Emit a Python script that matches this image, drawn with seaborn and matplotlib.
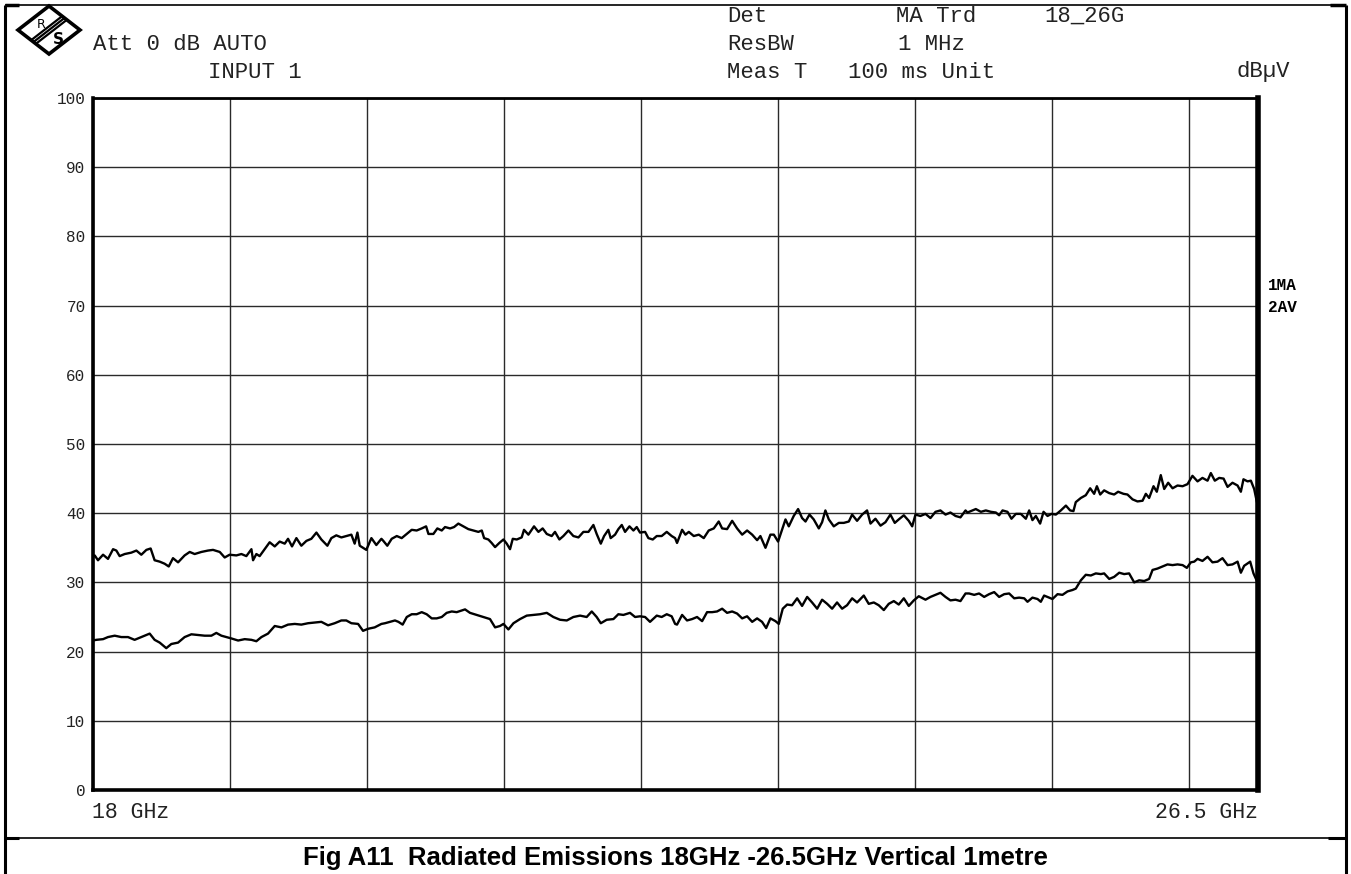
import numpy as np
import pandas as pd
import matplotlib
matplotlib.use("Agg")
import matplotlib.pyplot as plt
import seaborn as sns
from matplotlib.lines import Line2D
from matplotlib.patches import Polygon

# ---------------- data ----------------
ma_freq = [18.000, 18.016, 18.040, 18.077, 18.113, 18.150, 18.174, 18.198, 18.235, 18.283, 18.320, 18.356,
           18.393, 18.424, 18.441, 18.453, 18.490, 18.526, 18.556, 18.587, 18.624, 18.672, 18.709, 18.745,
           18.794, 18.842, 18.879, 18.928, 18.964, 19.000, 19.049, 19.086, 19.122, 19.159, 19.171, 19.195,
           19.219, 19.256, 19.292, 19.329, 19.365, 19.402, 19.426, 19.455, 19.487, 19.523, 19.560, 19.596,
           19.633, 19.669, 19.713, 19.742, 19.778, 19.815, 19.851, 19.888, 19.912, 19.932, 19.949, 19.997,
           20.034, 20.070, 20.107,
           20.121, 20.150, 20.182, 20.219, 20.255, 20.292, 20.328, 20.364, 20.401, 20.433, 20.450, 20.486,
           20.515, 20.547, 20.571, 20.608, 20.637, 20.668, 20.705, 20.741, 20.778, 20.814, 20.839, 20.856,
           20.887, 20.911, 20.936, 20.967, 20.997, 21.021, 21.045, 21.065, 21.094, 21.130, 21.147, 21.179,
           21.220, 21.252, 21.283, 21.313, 21.349, 21.373, 21.405, 21.434, 21.471, 21.507, 21.544, 21.580,
           21.617, 21.653, 21.677, 21.707, 21.731, 21.762, 21.779, 21.811, 21.835, 21.860, 21.884, 21.916,
           21.945, 21.969, 21.993, 22.030, 22.054, 22.086, 22.115, 22.151, 22.188, 22.224, 22.249,
           22.263, 22.300, 22.324, 22.349, 22.385, 22.422, 22.458, 22.494, 22.531, 22.567, 22.592, 22.628,
           22.665, 22.701, 22.738, 22.774, 22.811, 22.847, 22.871, 22.908, 22.944, 22.969, 23.000, 23.029,
           23.054, 23.078, 23.114, 23.146, 23.175, 23.200, 23.229, 23.260, 23.297, 23.321, 23.345, 23.370,
           23.406, 23.443, 23.479, 23.516, 23.540, 23.576, 23.613, 23.649, 23.674, 23.710, 23.747, 23.783,
           23.819, 23.851, 23.880, 23.917, 23.953, 23.978, 24.002, 24.038, 24.075, 24.111, 24.148, 24.184,
           24.221, 24.257, 24.294, 24.330, 24.367,
           24.381, 24.418, 24.442, 24.479, 24.515, 24.552, 24.588, 24.612, 24.637, 24.673, 24.702, 24.734,
           24.770, 24.807, 24.831, 24.855, 24.880, 24.911, 24.936, 24.965, 24.994, 25.026, 25.062, 25.099,
           25.130, 25.154, 25.171, 25.208, 25.244, 25.276, 25.305, 25.325, 25.349, 25.378, 25.415, 25.451,
           25.480, 25.519, 25.548, 25.585, 25.621, 25.658, 25.682, 25.706, 25.738, 25.762, 25.791, 25.816,
           25.845, 25.877, 25.913, 25.950, 25.986, 26.022, 26.059, 26.095, 26.132, 26.156, 26.185, 26.217,
           26.249, 26.278, 26.314, 26.351, 26.375, 26.394, 26.424, 26.448, 26.472, 26.492]
ma_level = [33.6, 33.9, 33.2, 34.0, 33.4, 34.8, 34.6, 33.8, 34.1, 34.3, 34.6, 34.0,
            34.7, 34.9, 33.9, 33.2, 33.0, 32.7, 32.3, 33.5, 32.9, 33.9, 34.4, 34.1,
            34.4, 34.6, 34.7, 34.4, 33.6, 34.0, 33.9, 34.1, 33.8, 34.8, 33.2, 34.1,
            33.8, 34.8, 35.8, 35.2, 35.9, 35.6, 36.3, 35.2, 36.4, 35.3, 36.0, 36.3,
            37.2, 36.2, 35.3, 36.4, 36.8, 36.5, 36.7, 36.9, 35.6, 37.2, 35.3, 34.7,
            36.4, 35.4, 36.3,
            36.0, 35.3, 36.3, 36.7, 36.4, 37.0, 37.6, 37.5, 37.8, 38.1, 37.0, 37.0,
            37.8, 37.5, 38.0, 37.8, 38.0, 38.5, 38.1, 37.7, 37.5, 37.3, 37.5, 36.4,
            36.2, 35.7, 35.1, 35.7, 36.2, 35.6, 34.8, 36.3, 36.2, 36.5, 37.6, 36.9,
            38.1, 37.3, 37.8, 37.0, 36.7, 37.3, 36.2, 36.7, 37.5, 36.7, 36.5, 37.3,
            37.3, 38.3, 37.0, 35.6, 36.7, 37.6, 36.4, 36.9, 37.7, 38.3, 37.3, 38.1,
            37.5, 38.0, 37.2, 37.3, 36.4, 36.2, 36.7, 36.7, 37.3, 36.7, 36.4,
            35.7, 37.6, 36.9, 37.3, 36.7, 36.9, 36.4, 37.5, 37.8, 38.8, 37.8, 37.7,
            38.9, 37.8, 36.9, 37.5, 36.9, 36.1, 36.7, 35.0, 36.9, 36.9, 35.9, 37.6,
            39.1, 38.1, 39.6, 40.6, 39.3, 38.8, 39.8, 39.1, 37.8, 38.7, 40.4, 39.1,
            38.1, 38.6, 38.6, 38.8, 39.8, 38.9, 39.8, 40.4, 38.5, 39.2, 38.2, 38.7,
            39.8, 38.6, 39.1, 39.7, 38.9, 38.1, 39.8, 39.6, 39.9, 39.3, 40.2, 40.4,
            39.8, 40.1, 39.6, 39.4, 40.4,
            40.1, 40.4, 40.6, 40.2, 40.4, 40.2, 40.1, 39.7, 40.4, 40.2, 39.2, 39.9,
            39.9, 39.2, 40.4, 39.0, 39.6, 38.5, 40.2, 39.6, 39.9, 39.8, 40.4, 41.1,
            40.4, 40.3, 41.6, 42.2, 42.6, 43.6, 42.8, 43.9, 42.7, 43.3, 42.9, 42.7,
            43.1, 42.8, 42.7, 42.0, 41.7, 41.8, 42.8, 42.2, 43.9, 43.1, 45.5, 43.5,
            44.4, 43.6, 44.0, 43.9, 44.2, 45.4, 44.6, 45.1, 44.7, 45.8, 44.7, 45.1,
            45.0, 43.8, 44.4, 44.0, 43.1, 44.9, 44.6, 44.7, 43.5, 41.6]

av_freq = [18.000, 18.028, 18.077, 18.113, 18.162, 18.210, 18.259, 18.307, 18.368, 18.417, 18.453, 18.490,
           18.538, 18.575, 18.624, 18.672, 18.721, 18.770, 18.818, 18.867, 18.903, 18.940, 18.976, 19.013,
           19.062, 19.110, 19.159, 19.195, 19.232, 19.280, 19.329, 19.378, 19.426, 19.475, 19.523, 19.572,
           19.620, 19.669, 19.718, 19.766, 19.815, 19.851, 19.888, 19.937, 19.973, 20.010, 20.058, 20.107,
           20.133, 20.170, 20.206, 20.231, 20.262, 20.292, 20.328, 20.364, 20.401, 20.437, 20.474, 20.510,
           20.547, 20.583, 20.620, 20.656, 20.717, 20.753, 20.802, 20.851, 20.899, 20.936, 20.972, 20.997,
           21.033, 21.070, 21.118, 21.167, 21.215, 21.264, 21.313, 21.361, 21.410, 21.459, 21.507, 21.556,
           21.604, 21.641, 21.677, 21.707, 21.750, 21.799, 21.835, 21.872, 21.920, 21.957, 21.993, 22.030,
           22.066, 22.115, 22.151, 22.188, 22.224, 22.249,
           22.263, 22.300, 22.336, 22.373, 22.409, 22.446, 22.482, 22.519, 22.555, 22.592, 22.628, 22.665,
           22.701, 22.738, 22.774, 22.811, 22.847, 22.883, 22.913, 22.944, 22.981, 23.005, 23.034, 23.066,
           23.102, 23.139, 23.175, 23.212, 23.248, 23.285, 23.321, 23.358, 23.394, 23.430, 23.467, 23.503,
           23.540, 23.576, 23.625, 23.661, 23.698, 23.734, 23.771, 23.807, 23.844, 23.880, 23.917, 23.953,
           23.990, 24.026, 24.075, 24.111, 24.148, 24.184, 24.221, 24.257, 24.294, 24.330, 24.367,
           24.393, 24.430, 24.466, 24.503, 24.539, 24.576, 24.612, 24.649, 24.685, 24.722, 24.758, 24.795,
           24.819, 24.855, 24.892, 24.916, 24.940, 24.977, 25.001, 25.038, 25.074, 25.111, 25.147, 25.171,
           25.208, 25.244, 25.281, 25.317, 25.354, 25.378, 25.415, 25.451, 25.488, 25.524, 25.560, 25.597,
           25.633, 25.670, 25.706, 25.731, 25.767, 25.804, 25.840, 25.877, 25.913, 25.950, 25.981, 26.010,
           26.035, 26.059, 26.095, 26.132, 26.168, 26.205, 26.241, 26.278, 26.314, 26.351, 26.375, 26.399,
           26.443, 26.467, 26.492]
av_level = [21.6, 21.7, 21.8, 22.1, 22.3, 22.1, 22.1, 21.7, 22.2, 22.6, 21.7, 21.3,
            20.5, 21.1, 21.3, 22.1, 22.5, 22.4, 22.3, 22.3, 22.7, 22.3, 22.1, 21.9,
            21.6, 21.8, 21.7, 21.5, 22.1, 22.6, 23.7, 23.5, 23.9, 24.0, 23.9, 24.1,
            24.2, 24.3, 23.8, 24.1, 24.5, 24.5, 24.1, 24.0, 23.0, 23.3, 23.5, 24.0,
            24.1, 24.3, 24.5, 24.3, 23.9, 25.0, 25.4, 25.4, 25.7, 25.4, 24.8, 24.8,
            25.0, 25.6, 25.8, 25.7, 26.1, 25.6, 25.3, 25.0, 24.7, 23.5, 23.7, 24.0,
            23.2, 24.1, 24.7, 25.2, 25.3, 25.4, 25.6, 25.0, 24.6, 24.5, 25.0, 25.2,
            25.0, 25.8, 25.0, 24.1, 24.6, 24.7, 25.4, 25.3, 25.6, 25.0, 25.1, 25.0,
            24.3, 25.2, 25.0, 25.4, 25.1, 24.0,
            23.9, 25.3, 24.5, 24.7, 25.0, 24.4, 25.7, 25.7, 25.8, 26.2, 25.6, 25.8,
            25.5, 24.8, 25.1, 24.3, 24.8, 24.3, 23.4, 24.8, 24.4, 24.0, 26.2, 26.8,
            26.7, 27.7, 26.6, 27.9, 27.1, 26.2, 27.5, 26.9, 26.2, 27.1, 26.2, 26.7,
            27.7, 27.1, 28.1, 26.9, 27.1, 26.7, 26.0, 26.9, 27.3, 26.8, 27.7, 26.6,
            27.4, 28.0, 27.5, 27.9, 28.2, 28.5, 27.9, 27.4, 27.5, 27.3, 28.4,
            28.4, 28.2, 28.4, 27.9, 28.3, 28.6, 27.9, 28.3, 28.4, 27.7, 27.8, 27.7,
            27.2, 27.8, 27.6, 27.2, 28.1, 27.8, 27.6, 28.3, 28.2, 28.7, 28.9, 29.1,
            30.3, 31.1, 31.0, 31.3, 31.2, 31.3, 30.5, 30.8, 31.4, 31.2, 31.3, 30.0,
            30.3, 30.2, 30.5, 31.8, 32.0, 32.3, 32.6, 32.5, 32.6, 32.5, 32.1, 32.9,
            33.0, 33.4, 33.1, 33.7, 32.9, 33.0, 33.5, 32.5, 32.6, 33.0, 31.4, 32.4,
            33.0, 31.3, 30.2]

y_ticks = [0, 10, 20, 30, 40, 50, 60, 70, 80, 90, 100]
x_grid = [18, 19, 20, 21, 22, 23, 24, 25, 26]
x_start, x_stop = 18.0, 26.5
start_label = "18 GHz"
stop_label = "26.5 GHz"
trace_labels = ["1MA", "2AV"]
caption = "Fig A11  Radiated Emissions 18GHz -26.5GHz Vertical 1metre"

# ---------------- style ----------------
sns.set_theme(style="white")
plt.rcParams['font.family'] = ['Liberation Mono', 'DejaVu Sans Mono', 'DejaVu Sans']

W, H = 1351, 874
fig = plt.figure(figsize=(W / 100, H / 100), dpi=100)
fig.patch.set_facecolor("white")


def fx(px):
    return px / W


def fy(py):
    return 1 - py / H


ax = fig.add_axes([fx(92.5), fy(790), fx(1258) - fx(92.5), fy(98) - fy(790)])
ax.set_facecolor("white")

df = pd.DataFrame({
    "freq": ma_freq + av_freq,
    "level": ma_level + av_level,
    "trace": [trace_labels[0]] * len(ma_freq) + [trace_labels[1]] * len(av_freq),
})
sns.lineplot(data=df, x="freq", y="level", hue="trace", palette=["black", "black"],
             estimator=None, linewidth=1.7, legend=False, ax=ax)

ax.set_xlim(x_start, x_stop)
ax.set_ylim(0, 100)
ax.set_xticks(x_grid)
ax.set_xticklabels([])
ax.set_yticks(y_ticks)
ax.set_yticklabels([str(v) for v in y_ticks], fontsize=11.5, color="#222222")
ax.tick_params(axis="both", length=0, pad=5)
ax.grid(True, color="#2a2a2a", linewidth=1.0)
ax.set_xlabel("")
ax.set_ylabel("")
for side, lw in (("left", 2.6), ("bottom", 2.6), ("right", 4.0), ("top", 2.0)):
    ax.spines[side].set_visible(True)
    ax.spines[side].set_color("black")
    ax.spines[side].set_linewidth(lw)

# frequency start / stop labels
tr = ax.get_xaxis_transform()
ax.text(x_start, -0.032, start_label, transform=tr,
        ha="left", va="center", fontsize=15.5, color="#222222")
ax.text(x_stop, -0.032, stop_label, transform=tr, ha="right", va="center",
        fontsize=15.5, color="#222222")

# trace labels on the right
fig.text(fx(1268), fy(286), trace_labels[0], ha="left", va="center", fontsize=11.5,
         fontweight="bold", color="black")
fig.text(fx(1268), fy(308), trace_labels[1], ha="left", va="center", fontsize=11.5,
         fontweight="bold", color="black")

# header (instrument settings)
hdr = dict(fontsize=16, color="#222222", va="center", ha="left")
fig.text(fx(93), fy(44), "Att 0 dB AUTO", **hdr)
fig.text(fx(208), fy(72), "INPUT 1", **hdr)
fig.text(fx(727), fy(16), "Det", **hdr)
fig.text(fx(896), fy(16), "MA Trd", **hdr)
fig.text(fx(1044), fy(16), "18_26G", **hdr)
fig.text(fx(727), fy(44), "ResBW", **hdr)
fig.text(fx(898), fy(44), "1 MHz", **hdr)
fig.text(fx(727), fy(72), "Meas T", **hdr)
fig.text(fx(848), fy(72), "100 ms Unit", **hdr)
fig.text(fx(1290), fy(72), "dBµV", fontsize=16, color="#222222", va="center", ha="right")

# caption
fig.text(fx(675), fy(858), caption, ha="center", va="center", fontsize=18.5,
         fontweight="bold", family=["Liberation Sans", "DejaVu Sans"], color="black")


# page frame
def line(xs, ys, lw, color="black"):
    fig.add_artist(Line2D([fx(v) for v in xs], [fy(v) for v in ys], color=color,
                          linewidth=lw, transform=fig.transFigure, solid_capstyle="butt"))


line([5, 5], [5, 874], 2.2)
line([1346, 1346], [5, 874], 2.2)
line([5, 1346], [5, 5], 1.2)
line([5, 19], [5, 5], 2.5)
line([1330, 1346], [5, 5], 2.5)
line([5, 1346], [838, 838], 1.2)
line([5, 19], [838, 838], 2.2)
line([1328, 1346], [838, 838], 2.2)

# R&S logo
cx0, cy0, hw, hh = 49, 30, 31, 24
diamond = Polygon([(fx(cx0 - hw), fy(cy0)), (fx(cx0), fy(cy0 - hh)),
                   (fx(cx0 + hw), fy(cy0)), (fx(cx0), fy(cy0 + hh))],
                  closed=True, fill=False, edgecolor="black", linewidth=2.6,
                  joinstyle="miter", transform=fig.transFigure)
fig.add_artist(diamond)
for off in (-3, 0, 3):
    line([cx0 - hw / 2 + off * 0.6, cx0 + hw / 2 + off * 0.6],
         [cy0 + hh / 2 + off * 0.75, cy0 - hh / 2 + off * 0.75], 1.6)
fig.text(fx(41), fy(25), "R", fontsize=9, ha="center", va="center",
         family=["DejaVu Sans"], color="black")
fig.text(fx(58), fy(39), "S", fontsize=11, ha="center", va="center",
         family=["DejaVu Sans"], fontweight="bold", color="black")

fig.savefig("out.png", dpi=100, facecolor="white")
